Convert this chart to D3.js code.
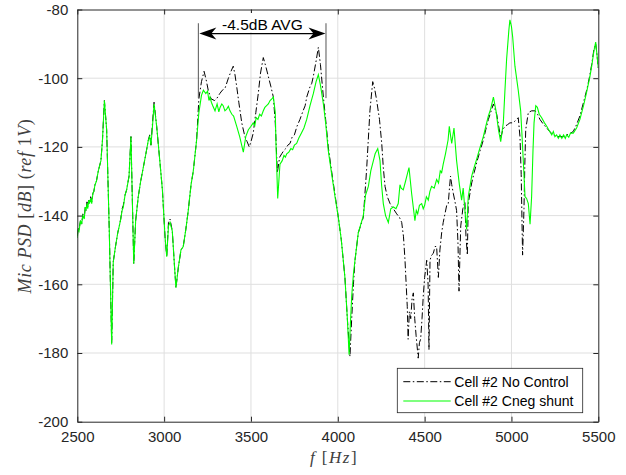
<!DOCTYPE html>
<html>
<head>
<meta charset="utf-8">
<script src="https://cdn.jsdelivr.net/npm/d3@7"></script>
<style>
  body { margin: 0; background: #fff; }
  svg { display: block; }
</style>
</head>
<body>
<svg id="chart"></svg>
<script>
// ---- data ----
var xTicks = [2500, 3000, 3500, 4000, 4500, 5000, 5500]
var yTicks = [-200, -180, -160, -140, -120, -100, -80]
var seriesNames = ["Cell #2 No Control", "Cell #2 Cneg shunt"]

var freqNoCtrl = [2500,2505,2510,2518,2525,2532,2540,2546,2550,2556,2560,2566,2570,2577,2583,2590,2595,2602,2610,2621,2636,2645,2656,2669,2684,2698,2707,2720,2733,2742,2750,2758,2765,2775,2784,2798,2809,2825,2836,2851,2865,2880,2895,2909,2917,2924,2933,2942,2957,2975,2990,3005,3015,3025,3034,3047,3060,3068,3082,3097,3110,3125,3139,3155,3168,3187,
  3200,3215,3230,3242,3254,3270,3290,3302,3320,3335,3350,3370,3385,3398,3408,3418,3430,3447,3465,3478,3490,3500,3513,3528,3542,3555,3571,3585,3600,3615,3629,3640,3652,3665,3677,3690,3700,3712,3725,3738,3750,3765,3782,3800,3812,3821,3840,3850,3859,3875,3888,3900,3917,3930,3945,3960,3974,3990,
  4003,4020,4041,4055,4070,4080,4090,4099,4118,4147,4166,4185,4201,4212,4224,4240,4253,4262,4272,4285,4301,4320,4339,4355,4368,4378,4387,4400,4405,4412,4420,4428,4435,4443,4451,4463,4470,4477,4485,4492,4500,4512,4520,4525,4531,4540,4550,4560,4569,4579,4588,4598,4607,4617,4627,4636,4643,4649,4656,4665,4675,4684,4692,4698,4704,4708,4720,4732,4738,4746,4751,4771,4785,4800,4820,4838,4852,4867,4880,4896,4915,4938,4950,4963,4978,4991,5005,5020,5039,5049,5056,5064,5068,5072,5077,5082,5097,5116,5136,5150,5164,5185,5203,5220,5241,5260,5279,5300,5318,5340,5356,5375,5394,5415,5433,5450,5462,5475,5485,5492,5500]
var psdNoCtrl = [-146,-143.5,-144,-141.5,-142.5,-139.5,-140.5,-137.5,-138.5,-136,-137.5,-135.5,-136.5,-134.5,-136,-133.5,-133,-131,-130,-127,-124,-118,-106.5,-115,-144,-177,-153.5,-149,-145,-143,-141,-138,-137,-134,-132.5,-128.5,-117,-154,-141.5,-134.5,-130,-126,-122,-118,-116.5,-119.5,-113,-107,-114,-124,-132.5,-146,-152,-142,-141,-144.5,-155,-161,-155,-150,-149,-144,-138.5,-131,-127,-118,
  -106,-101,-98,-100.5,-103.5,-106,-106.5,-106,-104.5,-103.5,-103,-100,-98,-96.5,-99,-102.5,-107,-113,-117,-118.5,-120,-118.5,-116,-110,-104.5,-98.5,-94,-96.5,-99.5,-102.5,-105.5,-113,-127.5,-123,-122,-121,-120.5,-119.5,-119,-117,-116.5,-114,-112,-109.5,-108,-105.5,-102.5,-101.5,-99.5,-95,-91,-96,-105.5,-112,-120,-125.5,-130.5,-136,
  -140.5,-147,-158,-170,-181,-170,-160,-153,-145,-140.5,-126.5,-109.5,-101,-103,-106.5,-112,-119,-126,-131.5,-134.5,-136.5,-138,-139.5,-140.5,-142,-146,-153,-166.5,-176,-168,-170,-164,-162.5,-170,-175,-181.5,-177,-176,-170,-163.5,-158,-153,-160,-179,-153,-151.5,-151,-149,-149,-158,-150,-145,-142,-139.5,-137,-136.5,-132,-128.5,-131,-133.5,-136,-138.5,-148,-162,-150,-143,-138,-136,-146,-151.5,-136.5,-130.5,-127.5,-124.5,-121,-118,-115,-112,-110,-107.5,-110.5,-117.5,-115,-114,-113.5,-113,-113,-112.5,-111.5,-117,-128,-151.5,-145,-138,-125,-115,-110,-109.5,-109.5,-110.5,-112,-113.5,-114.5,-115.5,-116.5,-117,-117,-117,-116.5,-116,-115.5,-113.5,-111,-107,-103.5,-99.5,-96,-91.5,-90,-93,-97]

var freqCneg = [2500,2505,2510,2518,2525,2532,2540,2546,2550,2556,2560,2566,2570,2577,2583,2590,2595,2602,2610,2621,2636,2645,2656,2669,2684,2698,2707,2720,2733,2742,2750,2758,2765,2775,2784,2798,2809,2825,2836,2851,2865,2880,2895,2909,2917,2924,2933,2942,2957,2975,2990,3005,3015,3025,3034,3047,3060,3068,3082,3097,3110,3125,3139,3155,3168,3187,
  3200,3215,3226,3240,3250,3258,3264,3272,3280,3293,3305,3315,3322,3332,3340,3350,3360,3370,3379,3390,3400,3418,3435,3456,3470,3485,3500,3513,3522,3530,3540,3550,3560,3571,3580,3590,3600,3610,3620,3629,3640,3644,3654,3667,3680,3690,3698,3706,3718,3730,3740,3750,3763,3775,3790,3805,3821,3840,3859,3875,3888,3900,3917,3930,3945,3965,3984,
  4003,4020,4041,4055,4065,4072,4080,4090,4099,4118,4147,4160,4176,4190,4205,4215,4230,4243,4252,4262,4275,4291,4305,4320,4335,4348,4358,4365,4377,4390,4400,4410,4418,4425,4444,4452,4460,4470,4483,4492,4500,4510,4521,4530,4540,4555,4569,4580,4590,4598,4607,4620,4635,4642,4650,4656,4669,4684,4700,4713,4722,4732,4742,4751,4771,4785,4800,4820,4838,4852,4867,4880,4896,4911,4925,4938,4953,4962,4972,4985,4991,5000,5007,5020,5039,5053,5060,5068,5078,5087,5097,5107,5116,5124,5130,5140,5149,5160,5174,5190,5203,5220,5232,5241,5250,5260,5270,5279,5290,5300,5310,5318,5330,5340,5356,5375,5394,5415,5433,5450,5462,5475,5485,5492,5500]
var psdCneg = [-146.5,-144,-144.5,-141.5,-142.5,-140,-141,-137.5,-138.5,-136.5,-138,-135.5,-136.5,-135,-136.5,-133.5,-133,-131,-130,-127,-124,-118,-106.5,-115,-144,-177.5,-153.5,-149,-145,-143,-141,-138.5,-137.5,-134,-132.5,-128.5,-117,-154,-141.5,-134.5,-130,-126,-122,-118,-117,-119.5,-114,-107.5,-114,-124,-132.5,-146,-152,-143,-142,-144.5,-155,-161,-155,-150,-149,-144,-138.5,-131,-127,-118,
  -110,-105,-103.5,-104.5,-103.8,-106.5,-105.5,-107,-108,-109.5,-107.5,-109.8,-108.5,-107.5,-108,-109.5,-109,-108.2,-109.5,-110.5,-111,-114,-117,-121.5,-117,-115,-114,-113,-113.8,-111.5,-112,-110.5,-111,-109.5,-108.5,-108,-107.5,-106.5,-106,-105.5,-110,-119,-135,-125,-124,-122.5,-123,-122,-121.5,-120.5,-120.8,-119.5,-119,-117.5,-116,-114.5,-112,-108,-104.5,-101,-99,-102,-107.5,-113,-121,-128,-134.5,
  -140.5,-147,-158,-170,-180.5,-172,-163.5,-157,-153,-145,-140,-134,-131.5,-127,-124,-122,-120.5,-124,-131,-136.5,-140,-142,-138,-137.5,-138,-136.5,-131,-132,-132.5,-130,-128,-126,-130,-133.5,-141.5,-138.5,-139.5,-137,-136.5,-138,-137,-134.5,-135.5,-133,-131.5,-132,-129.5,-130.5,-127,-127.5,-125,-122,-118,-114,-117,-119,-114.5,-124,-131,-135.5,-132,-138.5,-144,-134.5,-128.5,-126,-123.5,-120,-117,-114,-111,-109,-105.5,-109.5,-115,-118.5,-113,-104,-94.5,-86,-83,-85,-88,-96.5,-103.5,-109.5,-116,-124,-134.5,-135,-136.5,-142.5,-134.5,-121,-113,-108,-108.5,-110.5,-111.5,-113,-114,-115.5,-116.5,-115.5,-117,-116.5,-117.5,-116.5,-117.5,-116.5,-117.5,-116.5,-117.2,-116,-116,-114.5,-112,-108,-104,-100,-96.5,-92,-89.5,-93,-97]

// annotation: span and label
var avgSpan = [3197, 3932]
var avgLabel = "-4.5dB AVG"

// ---- layout ----
var width = 626, height = 475
var margin = {left: 77.3, right: 27.7, top: 9.5, bottom: 53.3}
var axisColor = "#262626"

var svg = d3.select("#chart")
    .attr("width", width)
    .attr("height", height)

var x = d3.scaleLinear().domain([2500, 5500]).range([margin.left, width - margin.right])
var y = d3.scaleLinear().domain([-200, -80]).range([height - margin.bottom, margin.top])

// grid
svg.append("g").selectAll("line").data(xTicks.slice(1, -1))
    .enter().append("line")
    .attr("x1", function(d){ return x(d) }).attr("x2", function(d){ return x(d) })
    .attr("y1", y(-200)).attr("y2", y(-80))
    .attr("stroke", "#dfdfdf").attr("stroke-width", 1)
svg.append("g").selectAll("line").data(yTicks.slice(1, -1))
    .enter().append("line")
    .attr("y1", function(d){ return y(d) }).attr("y2", function(d){ return y(d) })
    .attr("x1", x(2500)).attr("x2", x(5500))
    .attr("stroke", "#dfdfdf").attr("stroke-width", 1)

// curves
svg.append("clipPath").attr("id", "plotclip").append("rect")
    .attr("x", x(2500)).attr("y", y(-80))
    .attr("width", x(5500) - x(2500)).attr("height", y(-200) - y(-80))

var line = d3.line()
    .x(function(d){ return x(d[0]) })
    .y(function(d){ return y(d[1]) })

var blackPts = d3.zip(freqNoCtrl, psdNoCtrl)
var greenPts = d3.zip(freqCneg, psdCneg)

var plot = svg.append("g").attr("clip-path", "url(#plotclip)")
plot.append("path").datum(blackPts)
    .attr("d", line)
    .attr("fill", "none")
    .attr("stroke", "#000")
    .attr("stroke-width", 1)
    .attr("stroke-dasharray", "7,2.5,1.5,2.5")
plot.append("path").datum(greenPts)
    .attr("d", line)
    .attr("fill", "none")
    .attr("stroke", "#00ff00")
    .attr("stroke-width", 1.1)

// axes (left/bottom with labels, top/right box with ticks)
var plain = function(d){ return String(d) }
var xAxis = d3.axisBottom(x).tickValues(xTicks).tickSizeInner(-5).tickSizeOuter(0).tickPadding(10).tickFormat(plain)
var yAxis = d3.axisLeft(y).tickValues(yTicks).tickSizeInner(-5).tickSizeOuter(0).tickPadding(9).tickFormat(plain)

svg.append("g").attr("transform", "translate(0," + y(-200) + ")").call(xAxis)
svg.append("g").attr("transform", "translate(" + x(2500) + ",0)").call(yAxis)
svg.append("g").attr("transform", "translate(0," + y(-80) + ")")
    .call(d3.axisTop(x).tickValues(xTicks).tickSizeInner(-5).tickSizeOuter(0).tickFormat(""))
svg.append("g").attr("transform", "translate(" + x(5500) + ",0)")
    .call(d3.axisRight(y).tickValues(yTicks).tickSizeInner(-5).tickSizeOuter(0).tickFormat(""))

svg.selectAll(".domain").attr("stroke", axisColor)
svg.selectAll(".tick line").attr("stroke", axisColor)
svg.selectAll(".tick text")
    .attr("fill", axisColor)
    .style("font-family", "'Liberation Sans', Arial, sans-serif")
    .style("font-size", "15px")

// axis labels (latex-ish)
var ylab = svg.append("text")
    .attr("transform", "translate(31,206) rotate(-90)")
    .attr("text-anchor", "middle")
    .attr("fill", "#404040")
    .style("font-family", "'Liberation Serif', 'DejaVu Serif', serif")
    .style("font-size", "18px")
    .style("letter-spacing", "0.6px")
ylab.append("tspan").style("font-style", "italic").text("Mic PSD ")
ylab.append("tspan").text("[")
ylab.append("tspan").style("font-style", "italic").text("dB")
ylab.append("tspan").text("] (")
ylab.append("tspan").style("font-style", "italic").text("ref")
ylab.append("tspan").text(" 1")
ylab.append("tspan").style("font-style", "italic").text("V")
ylab.append("tspan").text(")")

var xlab = svg.append("text")
    .attr("x", 334)
    .attr("y", 463)
    .attr("text-anchor", "middle")
    .attr("fill", "#404040")
    .style("font-family", "'Liberation Serif', 'DejaVu Serif', serif")
    .style("font-size", "17px")
    .style("letter-spacing", "1.5px")
xlab.append("tspan").style("font-style", "italic").text("f  ")
xlab.append("tspan").text("[")
xlab.append("tspan").style("font-style", "italic").text("Hz")
xlab.append("tspan").text("]")

// annotation
var ann = svg.append("g")
avgSpan.forEach(function(f) {
    ann.append("line")
        .attr("x1", x(f)).attr("x2", x(f))
        .attr("y1", y(-84)).attr("y2", y(-105.8))
        .attr("stroke", "#555").attr("stroke-width", 1)
})
var ay = y(-87)
var xl = x(avgSpan[0]) + 1, xr = x(avgSpan[1]) - 0.5
ann.append("line")
    .attr("x1", xl + 8).attr("x2", xr - 8)
    .attr("y1", ay).attr("y2", ay)
    .attr("stroke", "#000").attr("stroke-width", 1.2)
ann.append("path")
    .attr("d", "M" + xl + "," + ay + " L" + (xl + 17) + "," + (ay - 6) + " L" + (xl + 12) + "," + ay + " L" + (xl + 17) + "," + (ay + 6) + "Z")
    .attr("fill", "#000")
ann.append("path")
    .attr("d", "M" + xr + "," + ay + " L" + (xr - 17) + "," + (ay - 6) + " L" + (xr - 12) + "," + ay + " L" + (xr - 17) + "," + (ay + 6) + "Z")
    .attr("fill", "#000")
var tcx = (xl + xr) / 2
ann.append("rect")
    .attr("x", tcx - 45).attr("y", 13)
    .attr("width", 90).attr("height", 19)
    .attr("fill", "#fff")
ann.append("text")
    .attr("x", tcx).attr("y", 30)
    .attr("text-anchor", "middle")
    .attr("fill", "#000")
    .style("font-family", "'Liberation Sans', Arial, sans-serif")
    .style("font-size", "15.5px")
    .text(avgLabel)

// legend
var leg = svg.append("g").attr("transform", "translate(397.3,368.3)")
leg.append("rect")
    .attr("width", 185.4).attr("height", 44.4)
    .attr("fill", "#fff").attr("stroke", axisColor).attr("stroke-width", 0.8)
var legStyles = [
    {stroke: "#000", dash: "7,2.5,1.5,2.5", w: 1},
    {stroke: "#00ff00", dash: null, w: 1.2}
]
seriesNames.forEach(function(name, i) {
    var ly = 13.4 + i * 19.3
    leg.append("line")
        .attr("x1", 6).attr("x2", 53.4)
        .attr("y1", ly).attr("y2", ly)
        .attr("stroke", legStyles[i].stroke)
        .attr("stroke-width", legStyles[i].w)
        .attr("stroke-dasharray", legStyles[i].dash)
    leg.append("text")
        .attr("x", 57).attr("y", ly + 5)
        .attr("fill", "#000")
        .style("font-family", "'Liberation Sans', Arial, sans-serif")
        .style("font-size", "14px")
        .text(name)
})
</script>
</body>
</html>
